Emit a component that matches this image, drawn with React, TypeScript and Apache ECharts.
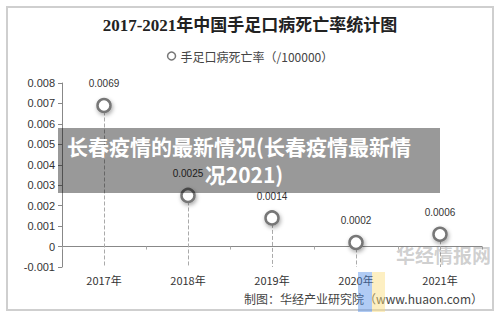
import React, { useEffect, useRef } from "react";
import * as echarts from "echarts";

const titleText = "2017-2021年中国手足口病死亡率统计图";
const seriesName = "手足口病死亡率（/100000）";
const categories = ["2017年", "2018年", "2019年", "2020年", "2021年"];
const values = [0.0069, 0.0025, 0.0014, 0.0002, 0.0006];
const valueLabels = ["0.0069", "0.0025", "0.0014", "0.0002", "0.0006"];
const yMin = -0.001;
const yMax = 0.008;
const yInterval = 0.001;
const sourceText = "制图：华经产业研究院（www.huaon.com）";
const bannerLine1 = "长春疫情的最新情况(长春疫情最新情";
const bannerLine2 = "况2021)";

export default function App() {
  const ref = useRef<HTMLDivElement>(null);
  useEffect(() => {
    if (!ref.current) return;
    const chart = echarts.init(ref.current, null, { renderer: "svg" });
    chart.setOption({
      animation: false,
      backgroundColor: "#fff",
      title: {
        text: titleText,
        left: "center",
        top: 12,
        textStyle: {
          fontFamily: "'Liberation Serif', 'Noto Sans CJK SC', serif",
          fontWeight: "bold",
          fontSize: 17,
          color: "#222",
        },
      },
      legend: {
        top: 45,
        left: "center",
        icon: "circle",
        itemWidth: 8,
        itemHeight: 8,
        itemGap: 4,
        textStyle: { fontFamily: "'Noto Sans CJK SC', sans-serif", fontSize: 12, color: "#444" },
        data: [{ name: seriesName, itemStyle: { color: "#fff", borderColor: "#777", borderWidth: 1.5 } }],
      },
      grid: { left: 62, right: 18, top: 83, bottom: 55 },
      xAxis: {
        type: "category",
        data: categories,
        boundaryGap: true,
        axisLine: { lineStyle: { color: "#888", width: 1 } },
        axisTick: { show: true, alignWithLabel: false, length: 3, lineStyle: { color: "#aaa" } },
        axisLabel: { color: "#333", fontSize: 11, margin: 7, fontFamily: "'Noto Sans CJK SC', sans-serif" },
      },
      yAxis: {
        type: "value",
        min: yMin,
        max: yMax,
        interval: yInterval,
        splitLine: { show: false },
        axisLine: { show: true, lineStyle: { color: "#888", width: 1 } },
        axisTick: { show: true, length: 4, lineStyle: { color: "#888" } },
        axisLabel: {
          color: "#333",
          fontSize: 11,
          margin: 7,
          fontFamily: "Arial, 'Liberation Sans', sans-serif",
          formatter: (v: number) => {
            const r = Math.round(v * 1000) / 1000;
            return r === 0 ? "0" : r.toFixed(3);
          },
        },
      },
      series: [
        {
          name: seriesName,
          type: "line",
          data: values,
          symbol: "circle",
          symbolSize: 13,
          lineStyle: { width: 0, opacity: 0 },
          itemStyle: {
            color: "#fff",
            borderColor: "#777",
            borderWidth: 2.5,
            shadowColor: "rgba(0,0,0,0.35)",
            shadowBlur: 4,
            shadowOffsetX: 1,
            shadowOffsetY: 2,
          },
          label: {
            show: true,
            position: "top",
            distance: 9,
            fontSize: 10,
            color: "#333",
            fontFamily: "Arial, 'Liberation Sans', sans-serif",
            formatter: (p: any) => valueLabels[p.dataIndex],
          },
          markLine: {
            silent: true,
            symbol: ["none", "none"],
            label: { show: false },
            lineStyle: { type: "dashed", color: "#aaa", width: 1 },
            data: categories.map((c, i) => [
              { coord: [c, values[i]] },
              { coord: [c, yMin] },
            ]),
          },
          z: 5,
        },
      ],
      graphic: [
        {
          type: "rect",
          shape: { x: 7, y: 7, width: 486, height: 303 },
          style: { fill: "none", stroke: "#cfcfcf", lineWidth: 2 },
          silent: true,
        },
        {
          type: "text",
          right: 17,
          top: 292,
          style: {
            text: sourceText,
            fontSize: 12,
            fill: "#444",
            fontFamily: "'Noto Sans CJK SC', sans-serif",
          },
        },
        {
          type: "text",
          left: 396,
          top: 245,
          style: {
            text: "华经情报网",
            fontSize: 19,
            fontWeight: "bold",
            fill: "rgba(120,120,120,0.35)",
            fontFamily: "'Noto Sans CJK SC', sans-serif",
          },
          z: 20,
        },
        {
          type: "rect",
          shape: { x: 358, y: 272, width: 14, height: 40 },
          style: { fill: "rgba(80,140,230,0.45)" },
          z: 20,
        },
        {
          type: "rect",
          shape: { x: 372, y: 272, width: 13, height: 40 },
          style: { fill: "rgba(250,220,120,0.45)" },
          z: 20,
        },
        {
          type: "rect",
          shape: { x: 58, y: 128, width: 382, height: 65 },
          style: { fill: "rgba(0,0,0,0.4)" },
          z: 30,
        },
        {
          type: "text",
          x: 239,
          y: 146,
          style: {
            text: bannerLine1,
            fontSize: 21,
            fontWeight: "bold",
            fill: "#fff",
            align: "center",
            verticalAlign: "middle",
            fontFamily: "'Noto Sans CJK SC', sans-serif",
          },
          z: 31,
        },
        {
          type: "text",
          x: 244,
          y: 174,
          style: {
            text: bannerLine2,
            fontSize: 21,
            fontWeight: "bold",
            fill: "#fff",
            align: "center",
            verticalAlign: "middle",
            fontFamily: "'Noto Sans CJK SC', sans-serif",
          },
          z: 31,
        },
      ],
    });
    return () => chart.dispose();
  }, []);
  return (
    <div
      ref={ref}
      style={{ position: "fixed", left: 0, top: 0, width: 500, height: 322, background: "#fff" }}
    />
  );
}
